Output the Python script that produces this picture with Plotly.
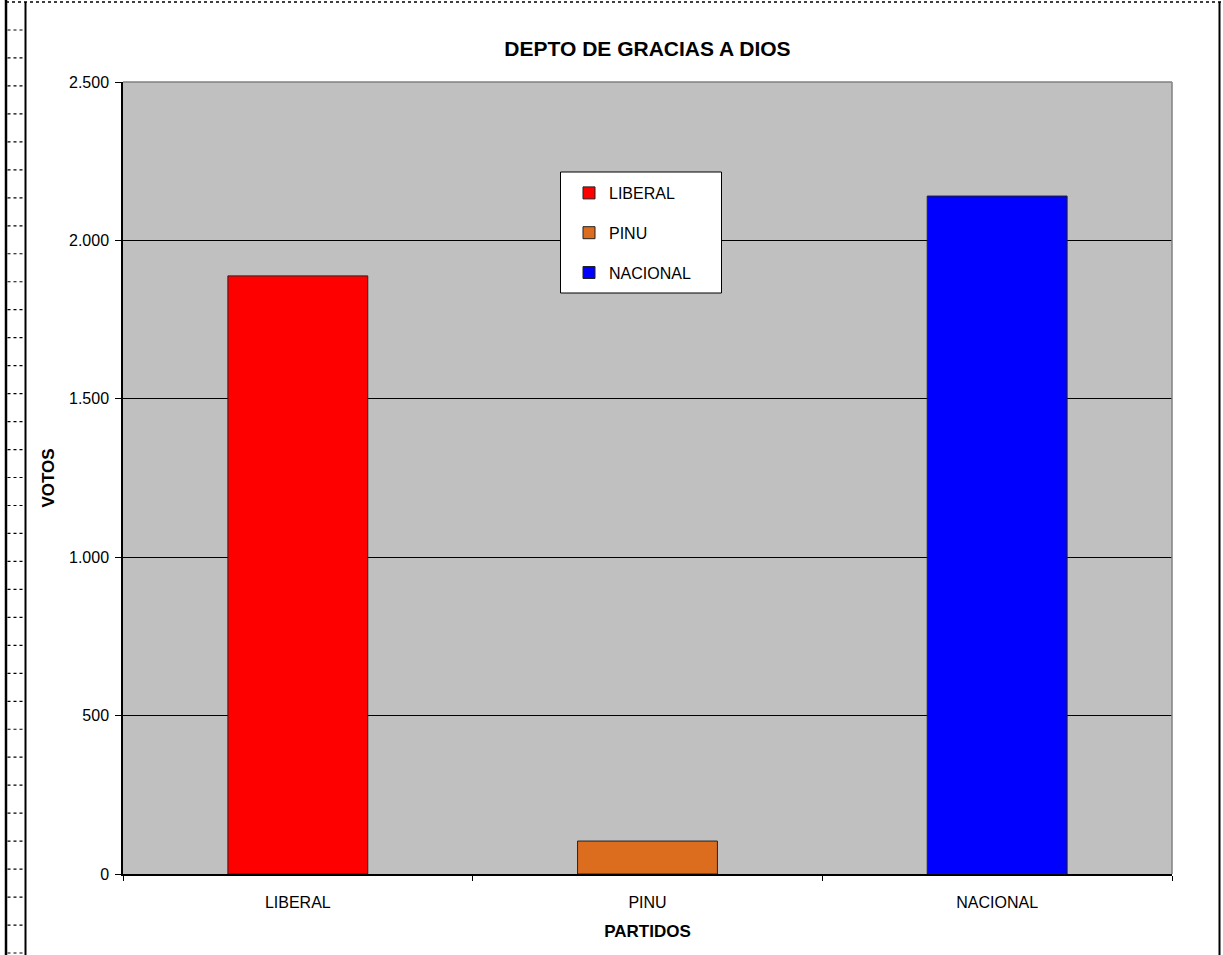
import plotly.graph_objects as go

# ---- data ----
partidos = ["LIBERAL", "PINU", "NACIONAL"]
votos = [1888, 104, 2140]
colores = ["#FF0000", "#DC6D1F", "#0000FF"]

W, H = 1223, 955
L, R, T, B = 123, 1172, 82, 874

def px(x):
    return (x - L) / (R - L)

def py(y):
    return (B - y) / (B - T)

fig = go.Figure()
for name, v, c in zip(partidos, votos, colores):
    fig.add_trace(go.Bar(
        x=[name], y=[v], name=name, legendgroup=name,
        marker=dict(color=c, line=dict(color="#222222", width=1)),
        width=0.4, xaxis="x", yaxis="y",
    ))

shapes = []
# plot-area top/right gray border
shapes.append(dict(type="line", xref="x domain", yref="y domain", x0=0, x1=1, y0=1, y1=1,
                   line=dict(color="#808080", width=1.5), layer="above"))
shapes.append(dict(type="line", xref="x domain", yref="y domain", x0=1, x1=1, y0=0, y1=1,
                   line=dict(color="#808080", width=1.5), layer="above"))
# legend box
shapes.append(dict(type="rect", xref="paper", yref="paper",
                   x0=px(560.5), x1=px(721.5), y0=py(293), y1=py(172),
                   fillcolor="white", line=dict(color="black", width=1), layer="above"))
# outer frame (spreadsheet edges)
shapes.append(dict(type="line", xref="paper", yref="paper", x0=px(6), x1=px(6), y0=py(0), y1=py(955),
                   line=dict(color="black", width=2.5)))
shapes.append(dict(type="line", xref="paper", yref="paper", x0=px(25.5), x1=px(25.5), y0=py(2), y1=py(955),
                   line=dict(color="black", width=2)))
shapes.append(dict(type="line", xref="paper", yref="paper", x0=px(1219.5), x1=px(1219.5), y0=py(2), y1=py(955),
                   line=dict(color="black", width=2)))
shapes.append(dict(type="line", xref="paper", yref="paper", x0=px(6), x1=px(1223), y0=py(2), y1=py(2),
                   line=dict(color="black", width=1.5, dash="dot")))
for k in range(34):
    yy = 30 + 27.97 * k
    shapes.append(dict(type="line", xref="paper", yref="paper", x0=px(7.5), x1=px(25), y0=py(yy), y1=py(yy),
                       line=dict(color="black", width=1.2, dash="dot")))

fig.update_layout(
    width=W, height=H,
    margin=dict(l=L, r=W - R, t=T, b=H - B),
    paper_bgcolor="white",
    plot_bgcolor="#C0C0C0",
    separators=",.",
    font=dict(family="Arial, Liberation Sans, sans-serif", color="black", size=16),
    title=dict(text="<b>DEPTO DE GRACIAS A DIOS</b>", x=(L + R) / 2 / W, xanchor="center",
               y=1 - 49 / H, yanchor="middle", yref="container",
               font=dict(size=21, color="black")),
    showlegend=True,
    legend=dict(x=px(569), y=py(176), xanchor="left", yanchor="top",
                bgcolor="rgba(0,0,0,0)", borderwidth=0, tracegroupgap=16,
                font=dict(size=16, color="black"), itemwidth=30),
    bargap=0.6,
    xaxis=dict(type="category", categoryorder="array", categoryarray=partidos,
               range=[-0.5, 2.5], showline=True, linecolor="black", linewidth=1.5,
               ticks="outside", ticklen=5, tickcolor="black", tickwidth=1, tickson="boundaries",
               showgrid=False, zeroline=False, ticklabelstandoff=13,
               tickfont=dict(size=16, color="black"),
               title=dict(text="<b>PARTIDOS</b>", font=dict(size=17, color="black"), standoff=15)),
    xaxis2=dict(overlaying="x", anchor="y", range=[-0.5, 2.5], tickvals=[-0.5, 0.5, 1.5, 2.5],
                ticks="inside", ticklen=5, tickcolor="black", tickwidth=1,
                showticklabels=False, showgrid=False, zeroline=False, showline=False),
    yaxis=dict(range=[0, 2500], dtick=500, tickformat=",d", showline=True, linecolor="black",
               linewidth=1.5, ticks="outside", ticklen=6, tickcolor="black", tickwidth=1,
               showgrid=True, gridcolor="black", gridwidth=1, zeroline=False,
               ticklabelstandoff=3, tickfont=dict(size=16, color="black"),
               title=dict(text="<b>VOTOS</b>", font=dict(size=17, color="black"), standoff=10)),
    shapes=shapes,
)

fig.write_html("out.html", config={"displayModeBar": False},
               post_script="document.body.style.margin='0';")
